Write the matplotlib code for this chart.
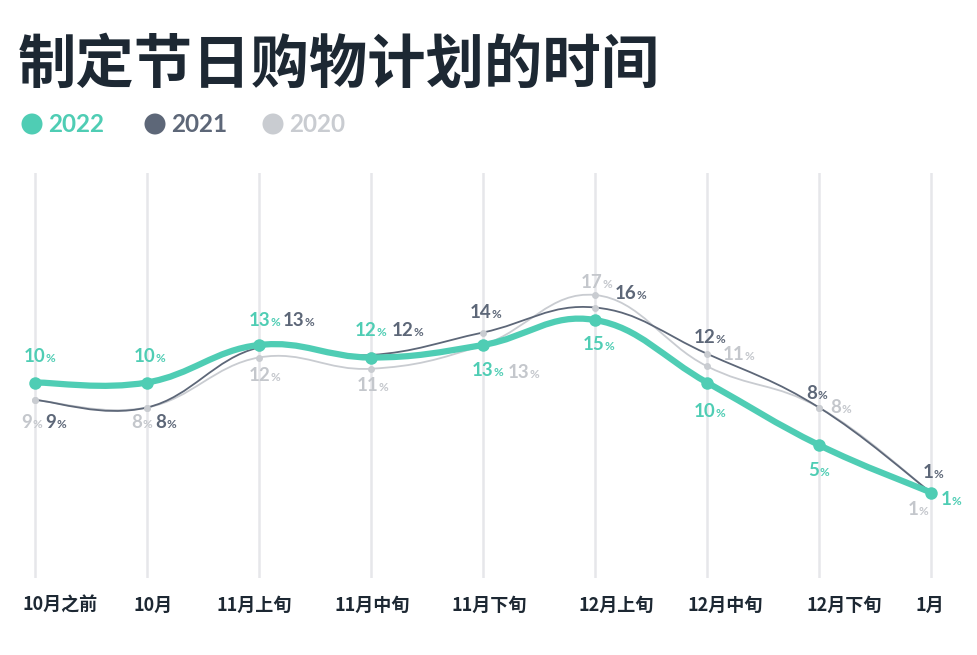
import matplotlib
matplotlib.use("Agg")
import matplotlib.pyplot as plt
import matplotlib.transforms as mtransforms
from matplotlib.path import Path
from matplotlib.patches import PathPatch, Circle

# data
periods = ["10月之前", "10月", "11月上旬", "11月中旬", "11月下旬",
           "12月上旬", "12月中旬", "12月下旬", "1月"]
years = ["2022", "2021", "2020"]
share_2022 = [10, 10, 13, 12, 13, 15, 10, 5, 1.2]
share_2021 = [8.6, 8, 12.8, 12.2, 14, 16, 12.3, 8, 1.2]
share_2020 = [8.6, 8, 12, 11.1, 13, 17, 11.3, 8, 1.2]

teal = "#4fcdb4"
slate = "#5d6778"
light = "#c9ccd1"
ink = "#1d2833"

# label offsets (pixels, x right / y down) of the number centre from its point
off_2022 = [(0, -26), (-2, -26), (1, -25), (-5, -27), (0, 25), (-1, 24), (-2, 29), (-5, 25), (15, 7)]
off_2021 = [(16, 22), (14, 15), (35, -27), (32, -25), (-2, -20), (31, -14), (-2, -16), (-7, -14), (-3, -20)]
off_2020 = [(-8, 22), (-10, 15), (1, 18), (-3, 17), (36, 27), (-3, -13), (27, -12), (17, 0), (-18, 17)]

W, H = 978, 655
fig = plt.figure(figsize=(W / 100, H / 100), dpi=100)
fig.patch.set_facecolor("white")

# axes spans the full width; grid at x px = 35 + 112*i, y px = 507.5 - 12.5*v
top, bottom = 173, 578
ax = fig.add_axes([0, 1 - bottom / H, 1, (bottom - top) / H])
ax.set_xlim(-35 / 112, (W - 35) / 112)
ax.set_ylim((507.5 - bottom) / 12.5, (507.5 - top) / 12.5)
for s in ax.spines.values():
    s.set_visible(False)
ax.set_yticks([])
ax.set_xticks(range(len(periods)))
ax.set_xticklabels(periods, fontfamily=["Noto Sans CJK SC", "DejaVu Sans"],
                   fontsize=13, fontweight="bold", color=ink)
ax.tick_params(axis="x", length=0, pad=13)
ax.grid(axis="x", color="#e6e7ea", lw=1.8)
ax.set_axisbelow(True)

tick_shift = [25, 6, -5, 1, 6, 21, 18, 25, -1]
for lab, dx in zip(ax.get_xticklabels(), tick_shift):
    lab.set_transform(lab.get_transform() + mtransforms.ScaledTranslation(dx / 100, 0, fig.dpi_scale_trans))


def smooth_path(vals, k=1 / 5):
    pts = [(i, v) for i, v in enumerate(vals)]
    verts = [pts[0]]
    codes = [Path.MOVETO]
    n = len(pts)
    for i in range(n - 1):
        p0 = pts[max(i - 1, 0)]
        p1 = pts[i]
        p2 = pts[i + 1]
        p3 = pts[min(i + 2, n - 1)]
        c1 = (p1[0] + (p2[0] - p0[0]) * k, p1[1] + (p2[1] - p0[1]) * k)
        c2 = (p2[0] - (p3[0] - p1[0]) * k, p2[1] - (p3[1] - p1[1]) * k)
        verts += [c1, c2, p2]
        codes += [Path.CURVE4] * 3
    return Path(verts, codes)


series = [
    (share_2020, light, light, 1.3, 5, off_2020, "#c4c7cc", 2),
    (share_2021, slate, light, 1.3, 5, off_2021, slate, 3),
    (share_2022, teal, teal, 4.5, 9, off_2022, teal, 4),
]

num_font = dict(family=["Lato", "DejaVu Sans"], weight="bold")
for vals, col, mcol, lw, ms, offs, tcol, z in series:
    ax.add_patch(PathPatch(smooth_path(vals), fill=False, edgecolor=col, lw=lw,
                           capstyle="round", joinstyle="round", zorder=z))
    ax.plot(range(len(vals)), vals, "o", color=mcol, ms=ms,
            mec="none", zorder=z + 0.1, clip_on=False)
    for i, (v, (dx, dy)) in enumerate(zip(vals, offs)):
        t = ax.annotate(f"{round(v)}", xy=(i, v), xytext=(dx, -dy), textcoords="offset pixels",
                        ha="center", va="center", fontsize=13.5, color=tcol, zorder=6, **num_font)
        ax.annotate("%", xy=(1, 0), xycoords=t, xytext=(0, 1), textcoords="offset pixels",
                    ha="left", va="bottom", fontsize=8.5, color=tcol, zorder=6, **num_font)

# title and legend in pixel coordinates
ident = mtransforms.IdentityTransform()
fig.text(18, H - 66, "制定节日购物计划的时间", transform=ident, ha="left", va="center",
         fontsize=42, fontweight="heavy", color=ink,
         fontfamily=["Noto Sans CJK SC", "DejaVu Sans"])

leg_x = [32, 155, 273]
leg_col = [teal, slate, light]
for x, yr, col in zip(leg_x, years, leg_col):
    fig.add_artist(Circle((x, H - 124), 10.5, transform=ident, color=col, lw=0))
    fig.text(x + 16, H - 124, yr, transform=ident, ha="left", va="center",
             fontsize=17.5, color=col, **num_font)

fig.savefig("out.png", dpi=100, facecolor="white")
